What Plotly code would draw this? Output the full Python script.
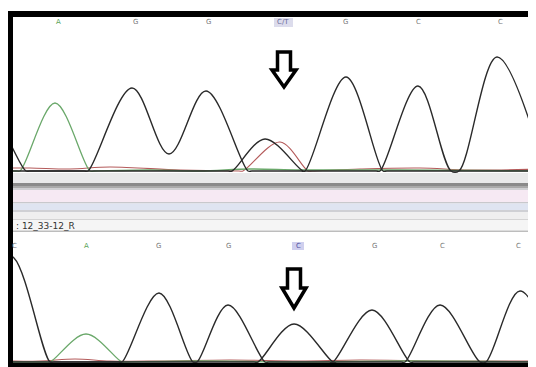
import plotly.graph_objects as go

W, H = 536, 367
OFF = 8  # default page body margin in the browser

# ---------------- data (positions in scan units, signal heights) ----------------
top_bases = ["A", "G", "G", "C/T", "G", "C", "C"]
top_base_x = [58, 135, 208, 283, 345, 418, 500]

bot_bases = ["C", "A", "G", "G", "C", "G", "C", "C"]
bot_base_x = [14, 86, 158, 228, 298, 374, 442, 518]

# top chromatogram channels
top_A_x = [0, 16, 20, 55, 90, 94, 150, 200, 250, 300, 400, 545]
top_A_y = [0, 0, 0, 68, 0, 0, 1, 0, 2, 1, 1, 0]
top_T_x = [0, 30, 70, 110, 180, 239, 243, 280, 308, 312, 360, 420, 470, 545]
top_T_y = [3, 3, 2, 4, 1, 0, 0, 29, 0, 0, 2, 3, 1, 2]
top_C_x = [-5, 13, 26, 30, 228, 232, 265, 303, 307, 376, 380, 418, 451, 459, 497, 545]
top_C_y = [60, 22, 0, 0, 0, 0, 32, 0, 0, 0, 0, 85, 0, 0, 114, 0]
top_G_x = [0, 84, 88, 132, 169, 206, 248, 252, 301, 305, 346, 383, 387, 545]
top_G_y = [0, 0, 0, 83, 17, 80, 0, 0, 0, 0, 94, 0, 0, 0]

# bottom chromatogram channels
bot_A_x = [0, 46, 50, 86, 122, 126, 200, 300, 400, 545]
bot_A_y = [0, 0, 0, 28, 0, 0, 1, 0, 1, 0]
bot_T_x = [0, 40, 75, 110, 160, 230, 300, 360, 450, 545]
bot_T_y = [1, 1, 3, 1, 1, 2, 1, 2, 1, 1]
bot_C_x = [0, 14, 50, 54, 254, 258, 294, 333, 337, 401, 405, 440, 480, 486, 520, 558]
bot_C_y = [108, 104, 0, 0, 0, 0, 38, 0, 0, 0, 0, 57, 0, 0, 71, 0]
bot_G_x = [0, 118, 122, 159, 193, 197, 228, 265, 269, 329, 333, 372, 410, 414, 545]
bot_G_y = [0, 0, 0, 69, 0, 0, 57, 0, 0, 0, 0, 52, 0, 0, 0]

sample_label = ": 12_33-12_R"

# ---------------- helpers ----------------
def px(x):
    return (x - OFF) / W

def py(y):
    return 1 - (y - OFF) / H

X0, X1 = 13, 532
TOP_Y0, TOP_Y1 = 17, 174
BOT_Y0, BOT_Y1 = 232, 363

fig = go.Figure()

GREEN = "#6aa86a"
RED = "#b45a5a"
BLACK = "#2a2a2a"

def add_channel(x, y, color, yaxis, width=1.4):
    fig.add_trace(go.Scatter(x=x, y=y, mode="lines", yaxis=yaxis,
                             line=dict(color=color, width=width, shape="spline", smoothing=1.0),
                             hoverinfo="skip", showlegend=False))

add_channel(top_T_x, top_T_y, RED, "y", 1.1)
add_channel(top_A_x, top_A_y, GREEN, "y", 1.3)
add_channel(top_C_x, top_C_y, BLACK, "y")
add_channel(top_G_x, top_G_y, BLACK, "y")

add_channel(bot_T_x, bot_T_y, RED, "y2", 1.1)
add_channel(bot_A_x, bot_A_y, GREEN, "y2", 1.3)
add_channel(bot_C_x, bot_C_y, BLACK, "y2")
add_channel(bot_G_x, bot_G_y, BLACK, "y2")

shapes = []
# frame
shapes.append(dict(type="rect", xref="paper", yref="paper", x0=px(7), x1=px(544), y0=py(380), y1=py(11),
                   fillcolor="black", line=dict(width=0), layer="below"))
shapes.append(dict(type="rect", xref="paper", yref="paper", x0=px(X0), x1=px(X1), y0=py(363), y1=py(17),
                   fillcolor="white", line=dict(width=0), layer="below"))

# separator bands
bands = [
    (173, 183, "#e9e9ea"),
    (183, 186, "#8a8a8a"),
    (186, 188, "#a9a9a9"),
    (188, 190, "#cfcfd2"),
    (190, 202, "#f6e9f3"),
    (202, 203.5, "#c8c8cc"),
    (203.5, 210, "#dfe4f1"),
    (210, 212, "#cfd0d4"),
    (212, 219, "#efefef"),
    (219, 220, "#d4d4d4"),
    (220, 230.5, "#f5f5f5"),
    (230.5, 232, "#bdbdbd"),
]
for a, b, c in bands:
    shapes.append(dict(type="rect", xref="paper", yref="paper", x0=px(X0), x1=px(X1), y0=py(b), y1=py(a),
                       fillcolor=c, line=dict(width=0), layer="below"))

# label highlight boxes
shapes.append(dict(type="rect", xref="paper", yref="paper", x0=px(274), x1=px(293), y0=py(27), y1=py(18),
                   fillcolor="#dcdcec", line=dict(width=0), layer="below"))
shapes.append(dict(type="rect", xref="paper", yref="paper", x0=px(292), x1=px(304), y0=py(250), y1=py(242),
                   fillcolor="#cfcfee", line=dict(width=0), layer="below"))

# hollow down arrows
def arrow(cx, ytop, ybot, sw=7, hw=13, hy=None):
    if hy is None:
        hy = ytop + (ybot - ytop) * 0.55
    pts = [(cx - sw, ytop), (cx + sw, ytop), (cx + sw, hy), (cx + hw, hy), (cx, ybot),
           (cx - hw, hy), (cx - sw, hy)]
    path = "M " + " L ".join(f"{px(x):.5f},{py(y):.5f}" for x, y in pts) + " Z"
    return dict(type="path", xref="paper", yref="paper", path=path,
                fillcolor="white", line=dict(color="black", width=3.5), layer="above")

shapes.append(arrow(284, 52, 87, sw=6.5, hw=12, hy=70))
shapes.append(arrow(294, 269, 308, sw=6.5, hw=12, hy=288))

annotations = []
for b, x in zip(top_bases, top_base_x):
    col = "#5aa55a" if b == "A" else ("#6a6a9a" if b == "C/T" else "#777777")
    annotations.append(dict(x=x, xref="x", y=py(22.5), yref="paper", text=b, showarrow=False,
                            font=dict(size=7, color=col, family="DejaVu Sans"), xanchor="center", yanchor="middle"))
for i, (b, x) in enumerate(zip(bot_bases, bot_base_x)):
    col = "#5aa55a" if b == "A" else ("#5050a0" if i == 4 else "#777777")
    annotations.append(dict(x=x, xref="x", y=py(246), yref="paper", text=b, showarrow=False,
                            font=dict(size=7, color=col, family="DejaVu Sans"), xanchor="center", yanchor="middle"))
annotations.append(dict(x=px(14), xref="paper", y=py(225.5), yref="paper", text=sample_label, showarrow=False,
                        font=dict(size=9, color="#333333", family="DejaVu Sans"), xanchor="left", yanchor="middle"))

fig.update_layout(
    width=W, height=H,
    margin=dict(l=0, r=0, t=0, b=0),
    paper_bgcolor="white",
    plot_bgcolor="rgba(0,0,0,0)",
    showlegend=False,
    xaxis=dict(domain=[px(X0), px(X1)], range=[X0, X1], visible=False, fixedrange=True),
    yaxis=dict(domain=[py(TOP_Y1), py(TOP_Y0)], range=[-3, 154], visible=False, fixedrange=True),
    yaxis2=dict(domain=[py(BOT_Y1), py(BOT_Y0)], range=[-1, 130], visible=False, fixedrange=True, anchor="x"),
    shapes=shapes,
    annotations=annotations,
)

fig.write_html("out.html")
